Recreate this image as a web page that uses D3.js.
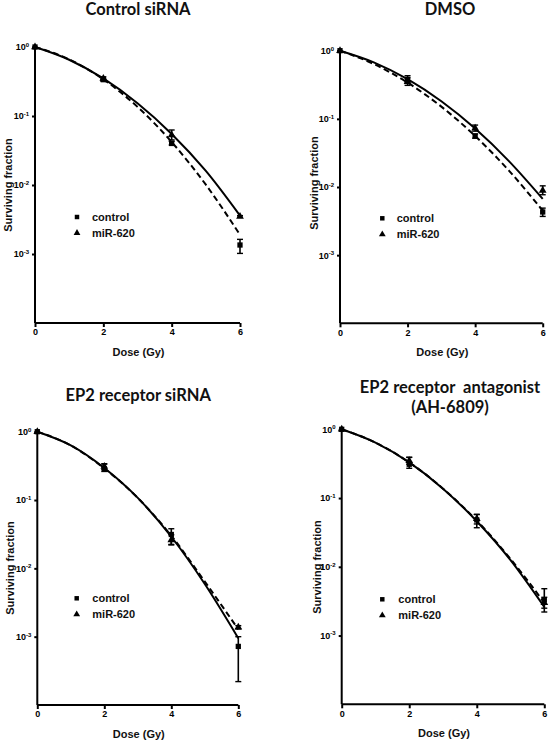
<!DOCTYPE html>
<html><head><meta charset="utf-8">
<script src="https://cdn.jsdelivr.net/npm/d3@7"></script>
<style>
html,body{margin:0;padding:0;background:#fff;}
svg{display:block;}
</style></head>
<body>
<svg id="chart" width="550" height="741"></svg>
<script>
// ---------- data ----------
const doses = [0, 2, 4, 6];
const xTicks = [0, 2, 4, 6];
const yTicks = [1, 0.1, 0.01, 0.001];
const yTickExponents = ["0", "-1", "-2", "-3"];
const panelTitles = [["Control siRNA"], ["DMSO"], ["EP2 receptor siRNA"], ["EP2 receptor  antagonist", "(AH-6809)"]];
const seriesNames = ["control", "miR-620"];
const xLabel = "Dose (Gy)";
const yLabel = "Surviving fraction";

// mean surviving fraction per panel
const controlMean = [
  [1, 0.336, 0.040, 0.00135],
  [1, 0.38, 0.056, 0.0043],
  [1, 0.286, 0.0313, 0.00072],
  [1, 0.31, 0.048, 0.0033]
];
const controlLow = [
  [1, 0.32, 0.038, 0.00102],
  [1, 0.34, 0.052, 0.0037],
  [1, 0.262, 0.0224, 0.00022],
  [1, 0.271, 0.037, 0.0022]
];
const controlHigh = [
  [1, 0.35, 0.043, 0.00163],
  [1, 0.43, 0.060, 0.0049],
  [1, 0.335, 0.038, 0.0010],
  [1, 0.392, 0.0575, 0.0048]
];
const mirMean = [
  [1, 0.35, 0.053, 0.0035],
  [1, 0.35, 0.073, 0.0089],
  [1, 0.31, 0.026, 0.00137],
  [1, 0.35, 0.050, 0.0030]
];
const mirLow = [
  [1, 0.33, 0.045, 0.0034],
  [1, 0.31, 0.066, 0.0077],
  [1, 0.28, 0.022, 0.0013],
  [1, 0.31, 0.042, 0.0025]
];
const mirHigh = [
  [1, 0.37, 0.0627, 0.0036],
  [1, 0.40, 0.081, 0.0104],
  [1, 0.34, 0.031, 0.00145],
  [1, 0.39, 0.058, 0.0036]
];

// fitted survival curves (read at 1 Gy steps)
const fitDoses = [0, 1, 2, 3, 4, 5, 6];
const solidFit = [
  [1, 0.654, 0.350, 0.153, 0.055, 0.0160, 0.0036],
  [1, 0.675, 0.382, 0.181, 0.072, 0.0240, 0.0067],
  [1, 0.631, 0.295, 0.1075, 0.029, 0.0059, 0.00095],
  [1, 0.640, 0.330, 0.137, 0.046, 0.0125, 0.0026]
];
const dashedFit = [
  [1, 0.662, 0.340, 0.1356, 0.042, 0.0101, 0.0019],
  [1, 0.638, 0.340, 0.151, 0.056, 0.0174, 0.0045],
  [1, 0.630, 0.290, 0.107, 0.030, 0.0064, 0.00128],
  [1, 0.640, 0.330, 0.137, 0.047, 0.0130, 0.0030]
];

// ---------- layout ----------
const panels = [
  {x0: 35, x1: 240, yT: 47, yB: 323, titleY: [15], titleX: 138, ylabX: 12, ylabY: 185, legX: 77, legY: 217, legTX: 92},
  {x0: 340, x1: 542.7, yT: 50.7, yB: 323.3, titleY: [15], titleX: 450, ylabX: 317.5, ylabY: 183, legX: 382.3, legY: 218.3, legTX: 396.7},
  {x0: 37.3, x1: 238.3, yT: 431.7, yB: 705, titleY: [400.7], titleX: 138.3, ylabX: 14, ylabY: 568, legX: 76.7, legY: 598.3, legTX: 92.3},
  {x0: 341.7, x1: 544.3, yT: 429.3, yB: 704.3, titleY: [393.3, 413.3], titleX: 450, ylabX: 320.7, ylabY: 567, legX: 382.3, legY: 599.3, legTX: 398.3}
];

const svg = d3.select("#chart");
const font = "'Liberation Sans', Arial, sans-serif";
const titleFont = "Lato, 'Open Sans', sans-serif";

panels.forEach((p, i) => {
  const g = svg.append("g");
  const x = d3.scaleLinear().domain([0, 6]).range([p.x0, p.x1]);
  const y = d3.scaleLog().domain([1e-4, 1]).range([p.yB, p.yT]);

  // title
  panelTitles[i].forEach((t, k) => {
    g.append("text").attr("x", p.titleX).attr("y", p.titleY[k])
      .attr("text-anchor", "middle").attr("font-family", titleFont)
      .attr("font-weight", 700).attr("font-size", 16.5).attr("fill", "#111")
      .style("white-space", "pre").text(t);
  });

  // x axis
  const xa = g.append("g").attr("transform", `translate(0,${p.yB})`)
    .call(d3.axisBottom(x).tickValues(xTicks).tickSize(4).tickPadding(2).tickFormat(d3.format("d")));
  xa.select(".domain").attr("stroke", "#000").attr("stroke-width", 2).attr("d", `M${p.x0},0H${p.x1}`);
  xa.selectAll(".tick line").attr("stroke", "#000").attr("stroke-width", 2);
  xa.selectAll(".tick text").attr("font-family", font).attr("font-weight", 700).attr("font-size", 9).attr("fill", "#000");

  // y axis
  const ya = g.append("g").attr("transform", `translate(${p.x0},0)`)
    .call(d3.axisLeft(y).tickValues(yTicks).tickSize(3).tickPadding(3).tickFormat(() => ""));
  ya.select(".domain").attr("stroke", "#000").attr("stroke-width", 2).attr("d", `M0,${p.yB}V${p.yT}`);
  ya.selectAll(".tick line").attr("stroke", "#000").attr("stroke-width", 2);
  ya.selectAll(".tick text").each(function(d, k) {
    const t = d3.select(this).attr("font-family", font).attr("font-weight", 700)
      .attr("font-size", 9).attr("fill", "#000").text(null);
    t.append("tspan").text("10");
    t.append("tspan").attr("dy", -3.5).attr("font-size", 6).text(yTickExponents[yTicks.indexOf(d)]);
  });

  // axis labels
  g.append("text").attr("x", (p.x0 + p.x1) / 2 + 1).attr("y", p.yB + 33)
    .attr("text-anchor", "middle").attr("font-family", font).attr("font-weight", 700)
    .attr("font-size", 11).attr("fill", "#111").text(xLabel);
  g.append("text").attr("transform", `translate(${p.ylabX},${p.ylabY}) rotate(-90)`)
    .attr("text-anchor", "middle").attr("font-family", font).attr("font-weight", 700)
    .attr("font-size", 11).attr("fill", "#111").text(yLabel);

  // fitted curves
  const line = d3.line().x((d, k) => x(fitDoses[k])).y(d => y(d)).curve(d3.curveMonotoneX);
  g.append("path").datum(dashedFit[i]).attr("d", line).attr("fill", "none")
    .attr("stroke", "#000").attr("stroke-width", 2).attr("stroke-dasharray", "6,3.5");
  g.append("path").datum(solidFit[i]).attr("d", line).attr("fill", "none")
    .attr("stroke", "#000").attr("stroke-width", 2);

  // error bars + markers
  const series = [
    {mean: controlMean[i], lo: controlLow[i], hi: controlHigh[i], sym: d3.symbolSquare, size: 28},
    {mean: mirMean[i], lo: mirLow[i], hi: mirHigh[i], sym: d3.symbolTriangle, size: 26}
  ];
  series.forEach(s => {
    doses.forEach((d, k) => {
      if (k === 0) return;
      const xx = x(d), y1 = y(s.lo[k]), y2 = y(s.hi[k]);
      g.append("line").attr("x1", xx).attr("x2", xx).attr("y1", y1).attr("y2", y2)
        .attr("stroke", "#000").attr("stroke-width", 1.6);
      [y1, y2].forEach(yy => g.append("line").attr("x1", xx - 3).attr("x2", xx + 3)
        .attr("y1", yy).attr("y2", yy).attr("stroke", "#000").attr("stroke-width", 1.4));
    });
    g.selectAll(null).data(s.mean).enter().append("path")
      .attr("transform", (v, k) => `translate(${x(doses[k])},${y(v)})`)
      .attr("d", d3.symbol().type(s.sym).size(s.size)).attr("fill", "#000");
  });

  // legend
  const leg = [d3.symbolSquare, d3.symbolTriangle];
  seriesNames.forEach((n, k) => {
    const ly = p.legY + k * 16;
    g.append("path").attr("transform", `translate(${p.legX},${ly})`)
      .attr("d", d3.symbol().type(leg[k]).size(20)).attr("fill", "#000");
    g.append("text").attr("x", p.legTX).attr("y", ly + 4)
      .attr("font-family", font).attr("font-weight", 700).attr("font-size", 11)
      .attr("fill", "#111").text(n);
  });
});
</script>
</body></html>
